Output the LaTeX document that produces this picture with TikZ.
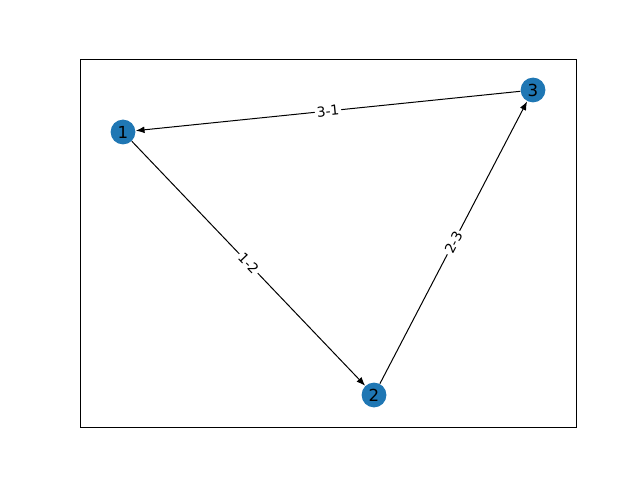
\documentclass[tikz,border=0pt]{standalone}
\usepackage{fontspec}
\setmainfont{DejaVu Sans}
\usetikzlibrary{positioning,arrows.meta}
\definecolor{nodeblue}{HTML}{1F77B4}

\begin{document}
\begin{tikzpicture}[x=0.5pt,y=-0.5pt,
    vertex/.style={circle,fill=nodeblue,minimum size=12.4pt,inner sep=0pt,font=\fontsize{8.3}{9}\selectfont},
    link/.style={-{Latex[length=4.4pt,width=3.4pt]},line width=0.5pt},
    tag/.style={fill=white,inner sep=1pt,sloped,font=\fontsize{6.9}{8}\selectfont}]
    \useasboundingbox (0,0) rectangle (640,480);
    \draw[line width=0.42pt] (80,59) rectangle (576,427);
    \node[vertex] (n1) at (123,132) {1};
    \node[vertex] (n2) at (374,395) {2};
    \node[vertex] (n3) at (533,90) {3};
    \draw[link] (n1) -- node[tag] {1-2} (n2);
    \draw[link] (n2) -- node[tag] {2-3} (n3);
    \draw[link] (n3) -- node[tag] {3-1} (n1);
  \end{tikzpicture}
\end{document}
